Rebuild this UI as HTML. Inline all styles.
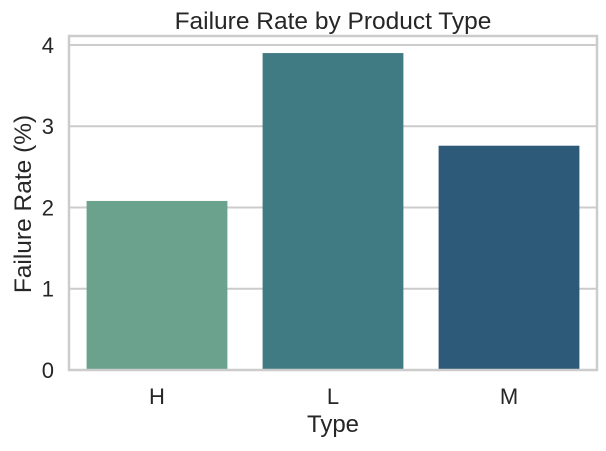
<!DOCTYPE html>
<html><head><meta charset="utf-8"><style>
body{margin:0;background:#fff;}
svg text{font-family:"Liberation Sans",sans-serif;fill:#262626;}
</style></head><body>
<svg id="chart" width="606" height="446" viewBox="0 0 606 446">
<rect x="0" y="0" width="606" height="446" fill="#fff"/>
<g id="grid"></g><g id="bars"></g><g id="frame"></g><g id="labels"></g>
<text x="333" y="29" font-size="24.5" text-anchor="middle">Failure Rate by Product Type</text>
<text x="333" y="432" font-size="24" text-anchor="middle">Type</text>
<text transform="translate(31,204) rotate(-90)" font-size="24.5" text-anchor="middle">Failure Rate (%)</text>
</svg>
<script>
const categories = ["H", "L", "M"];
const values = [2.08, 3.90, 2.76];
const colors = ["#6aa28e", "#407a82", "#2d5a78"];
const yTicks = [0, 1, 2, 3, 4];

const NS = "http://www.w3.org/2000/svg";
const L = 69, R = 597, T = 36, B = 370;
const yMax = 4.11;
function y(v){ return B - v / yMax * (B - T); }
const step = (R - L) / categories.length;
function x(i){ return L + step * (i + 0.5); }
function mk(tag, attrs, parent){ const e = document.createElementNS(NS, tag); for (const k in attrs) e.setAttribute(k, attrs[k]); document.getElementById(parent).appendChild(e); return e; }

yTicks.forEach(t => {
  const g = mk("line", {x1: L, x2: R, y1: y(t), y2: y(t), stroke: "#cccccc", "stroke-width": 2}, "grid");
  
  
  const tx = mk("text", {x: 54, y: y(t) + 8, "font-size": 22, "text-anchor": "end"}, "labels");
  tx.textContent = t;
  
  
});
categories.forEach((c, i) => {
  const w = step * 0.8;
  const b = mk("rect", {x: x(i) - w / 2, y: y(values[i]), width: w, height: B - y(values[i]), fill: colors[i]}, "bars");
  
  
  const tx = mk("text", {x: x(i), y: 404, "font-size": 22, "text-anchor": "middle"}, "labels");
  tx.textContent = c;
  
  
});
const f = mk("rect", {x: L, y: T, width: R - L, height: B - T, fill: "none", stroke: "#cccccc", "stroke-width": 2.5}, "frame");


</script>
</body></html>
